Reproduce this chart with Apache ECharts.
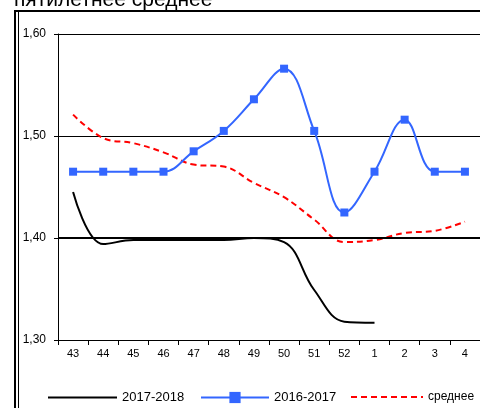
<!DOCTYPE html>
<html>
<head>
<meta charset="utf-8">
<script src="https://cdn.jsdelivr.net/npm/echarts@6/dist/echarts.min.js"></script>
<style>
  html, body { margin: 0; padding: 0; background: #fff; }
  #chart { width: 480px; height: 408px; }
</style>
</head>
<body>
<div id="chart"></div>
<script>
// недели
var weeks = ['43', '44', '45', '46', '47', '48', '49', '50', '51', '52', '1', '2', '3', '4'];
// 2017-2018 (данные до 1-й недели)
var s2017 = [1.445, 1.394, 1.398, 1.398, 1.398, 1.398, 1.400, 1.396, 1.349, 1.318, 1.317, null, null, null];
// 2016-2017
var s2016 = [1.465, 1.465, 1.465, 1.465, 1.485, 1.505, 1.536, 1.566, 1.505, 1.425, 1.465, 1.516, 1.465, 1.465];
// пятилетнее среднее
var avg = [1.521, 1.498, 1.493, 1.484, 1.472, 1.470, 1.454, 1.440, 1.418, 1.396, 1.398, 1.405, 1.407, 1.416];
var yTicks = [1.30, 1.40, 1.50, 1.60];

var font = 'Liberation Sans, Arial, sans-serif';

var option = {
    animation: false,
    backgroundColor: '#fff',
    grid: { left: 58, top: 34, right: -2, bottom: 68 },
    graphic: [
        { type: 'text', left: 14, top: -10, style: { text: 'пятилетнее среднее', font: '21px ' + font, fill: '#000' } },
        { type: 'line', shape: { x1: 15, y1: 11, x2: 480, y2: 11 }, style: { stroke: '#000', lineWidth: 2 } },
        { type: 'line', shape: { x1: 15, y1: 10, x2: 15, y2: 408 }, style: { stroke: '#000', lineWidth: 2 } },
        { type: 'line', shape: { x1: 18.5, y1: 12, x2: 18.5, y2: 408 }, style: { stroke: '#000', lineWidth: 1 } }
    ],
    legend: [
        { data: ['2017-2018'], left: 47, top: 391, padding: 0, itemWidth: 69, itemHeight: 14, itemGap: 0,
          itemStyle: { opacity: 0 },
          textStyle: { fontFamily: font, fontSize: 13, color: '#000' } },
        { data: ['2016-2017'], left: 200, top: 391, padding: 0, itemWidth: 68, itemHeight: 14, itemGap: 0,
          textStyle: { fontFamily: font, fontSize: 13, color: '#000' } },
        { data: ['среднее'], left: 350, top: 391, padding: 0, itemWidth: 72, itemHeight: 14, itemGap: 0,
          itemStyle: { opacity: 0 },
          textStyle: { fontFamily: font, fontSize: 12, color: '#000' } }
    ],
    xAxis: {
        type: 'category',
        data: weeks,
        boundaryGap: true,
        axisLine: { lineStyle: { color: '#000', width: 1 } },
        axisTick: { show: true, length: 5, inside: false, lineStyle: { color: '#000' } },
        axisLabel: { color: '#000', fontFamily: font, fontSize: 11, margin: 8 },
        splitLine: { show: false }
    },
    yAxis: {
        type: 'value',
        min: 1.30,
        max: 1.60,
        interval: 0.10,
        axisLine: { show: true, lineStyle: { color: '#000', width: 1 } },
        axisTick: { show: true, length: 4, lineStyle: { color: '#000' } },
        axisLabel: {
            color: '#000', fontFamily: font, fontSize: 12, margin: 12,
            formatter: function (v) { return v.toFixed(2).replace('.', ','); }
        },
        splitLine: { show: true, lineStyle: { color: '#000', width: 1 } }
    },
    series: [
        {
            name: '2017-2018',
            type: 'line',
            data: s2017,
            smooth: 0.4,
            symbol: 'none',
            lineStyle: { color: '#000', width: 2 },
            itemStyle: { color: '#000' },
            z: 3,
            markLine: {
                silent: true,
                symbol: 'none',
                label: { show: false },
                lineStyle: { color: '#000', width: 2, type: 'solid' },
                data: [{ yAxis: yTicks[1] }]
            }
        },
        {
            name: '2016-2017',
            type: 'line',
            data: s2016,
            smooth: 0.4,
            symbol: 'rect',
            symbolSize: 8,
            lineStyle: { color: '#3366ff', width: 2 },
            itemStyle: { color: '#3366ff' },
            z: 4
        },
        {
            name: 'среднее',
            type: 'line',
            data: avg,
            smooth: 0.4,
            symbol: 'none',
            lineStyle: { color: '#ff0000', width: 2, type: [6, 4] },
            itemStyle: { color: '#ff0000' },
            z: 2
        }
    ]
};

var myChart = echarts.init(document.getElementById('chart'));
myChart.setOption(option);
</script>
</body>
</html>
